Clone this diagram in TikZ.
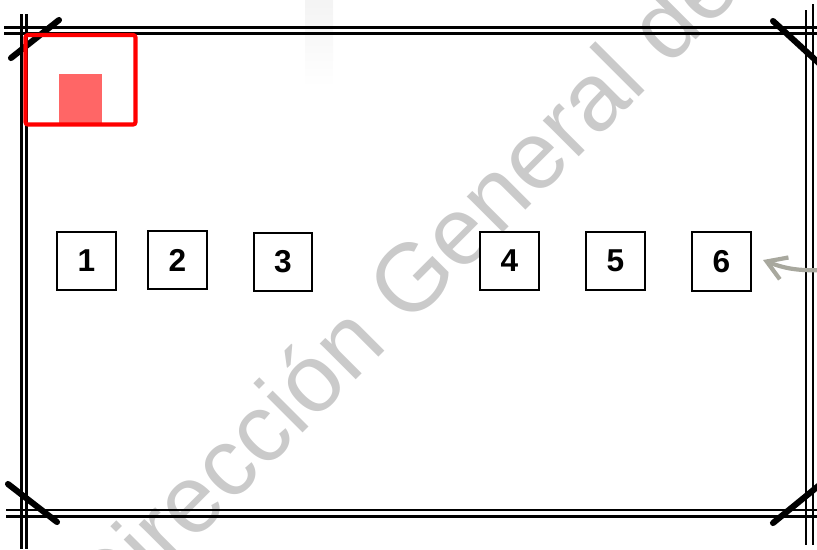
\documentclass[tikz,border=0pt]{standalone}
\usepackage{fontspec}
\setmainfont{Liberation Sans}
\usepackage{tikz}
\usetikzlibrary{arrows.meta}
\usepackage{xcolor}

\begin{document}
\begin{tikzpicture}[
    x=0.03cm, y=-0.03cm,
    >={Straight Barb[length=16pt,width=20pt]},
    frameLine/.style={line width=2.5pt},
    cornerMark/.style={line width=5.2pt, line cap=round},
    seatBox/.style={draw, line width=2pt, fill=white, minimum size=50pt, inner sep=0pt,
        font=\bfseries\fontsize{27}{27}\selectfont},
]

% colors
\definecolor{watermarkGray}{HTML}{CACACA}
\definecolor{markerRed}{HTML}{FF0000}
\definecolor{markerPink}{HTML}{FF6666}
\definecolor{arrowGray}{HTML}{A8A89E}

% page size
\useasboundingbox (0,0) rectangle (817,549);
\clip (0,0) rectangle (817,549);

% faint scan smudge at the top
\fill[top color=gray!9, bottom color=white] (305,0) rectangle (333,87);

% watermark, behind everything
\node[anchor=base west, inner sep=0pt, rotate=45, text=watermarkGray,
    font=\fontsize{82}{82}\selectfont] (watermark) at (106,630) {Dirección General de};

% double frame lines
% top
\draw[frameLine] (4,27.7) -- (817,27.7);
\draw[frameLine] (4,33.7) -- (817,33.7);
% bottom
\draw[frameLine] (6,510) -- (817,510);
\draw[frameLine] (6,516.5) -- (817,516.5);
% left
\draw[frameLine] (21.5,14) -- (21.5,549);
\draw[frameLine] (26.8,14) -- (26.8,549);
% right
\draw[frameLine] (806,10) -- (806,545);
\draw[frameLine] (813,4) -- (813,545);

% corner marks
\draw[cornerMark] (11,58) -- (59,20);
\draw[cornerMark] (773,21) -- (822,66);
\draw[cornerMark] (8,484) -- (57,522);
\draw[cornerMark] (773,523) -- (822,483);

% red marker in the upper left corner
\fill[markerPink] (59,74) rectangle (102,126);
\draw[markerRed, line width=3.5pt, rounded corners=2pt] (25.5,35) rectangle (135.5,124.5);

% numbered boxes
\node[seatBox] (seatOne) at (86.5,261) {1};
\node[seatBox] (seatTwo) at (177.5,260) {2};
\node[seatBox] (seatThree) at (283,262) {3};
\node[seatBox] (seatFour) at (509.5,261) {4};
\node[seatBox] (seatFive) at (615.5,261) {5};
\node[seatBox] (seatSix) at (721.5,261.5) {6};

% grey arrow coming in from the right
\coordinate (arrowTail) at (822,270);
\coordinate (arrowTip) at (763,260);
\draw[->, arrowGray, line width=3.6pt, line cap=round] (arrowTail) to[bend left=12] (arrowTip);

\end{tikzpicture}
\end{document}
